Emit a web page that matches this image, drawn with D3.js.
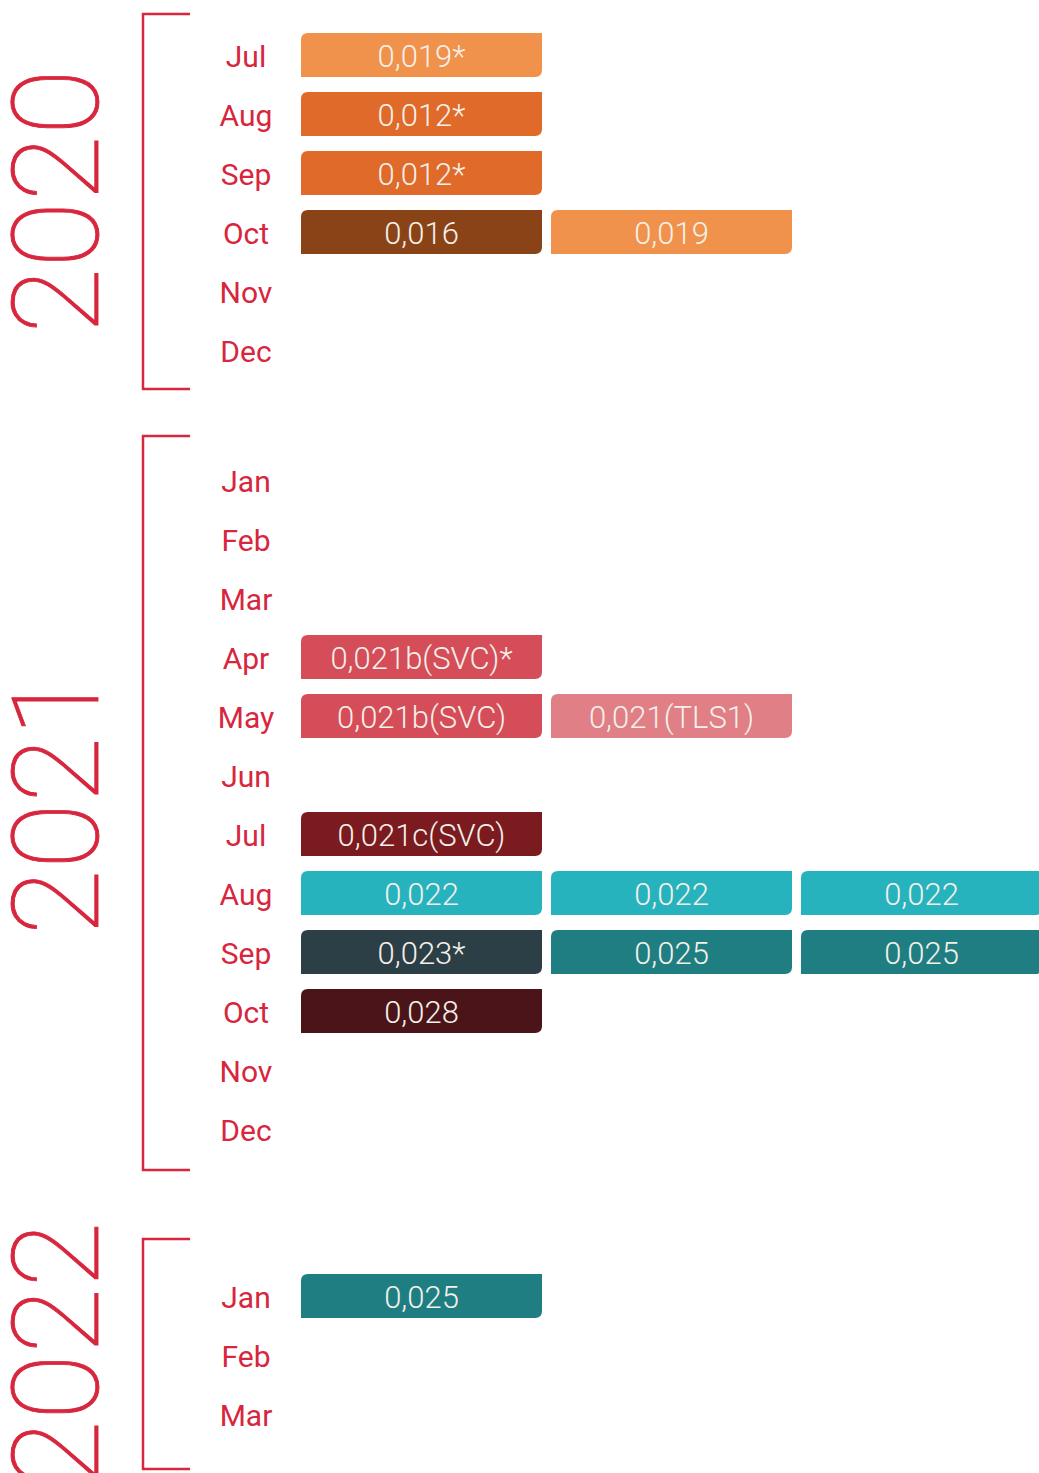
<!DOCTYPE html>
<html>
<head>
<meta charset="utf-8">
<script src="https://cdn.jsdelivr.net/npm/d3@7"></script>
<style>
  body { margin: 0; background: #fff; }
  svg { display: block; }
</style>
</head>
<body>
<div id="chart"></div>
<script>
// ---- data ----
const years = ["2020", "2021", "2022"];
const months2020 = ["Jul", "Aug", "Sep", "Oct", "Nov", "Dec"];
const months2021 = ["Jan", "Feb", "Mar", "Apr", "May", "Jun", "Jul", "Aug", "Sep", "Oct", "Nov", "Dec"];
const months2022 = ["Jan", "Feb", "Mar"];

// one entry per published value: year, month, column slot, label, kind (colour key)
const rates = [
  { year: "2020", month: "Jul", slot: 0, label: "0,019*", kind: "a019p" },
  { year: "2020", month: "Aug", slot: 0, label: "0,012*", kind: "a012p" },
  { year: "2020", month: "Sep", slot: 0, label: "0,012*", kind: "a012p" },
  { year: "2020", month: "Oct", slot: 0, label: "0,016", kind: "a016" },
  { year: "2020", month: "Oct", slot: 1, label: "0,019", kind: "a019p" },
  { year: "2021", month: "Apr", slot: 0, label: "0,021b(SVC)*", kind: "svcB" },
  { year: "2021", month: "May", slot: 0, label: "0,021b(SVC)", kind: "svcB" },
  { year: "2021", month: "May", slot: 1, label: "0,021(TLS1)", kind: "tls1" },
  { year: "2021", month: "Jul", slot: 0, label: "0,021c(SVC)", kind: "svcC" },
  { year: "2021", month: "Aug", slot: 0, label: "0,022", kind: "v022" },
  { year: "2021", month: "Aug", slot: 1, label: "0,022", kind: "v022" },
  { year: "2021", month: "Aug", slot: 2, label: "0,022", kind: "v022" },
  { year: "2021", month: "Sep", slot: 0, label: "0,023*", kind: "v023p" },
  { year: "2021", month: "Sep", slot: 1, label: "0,025", kind: "v025" },
  { year: "2021", month: "Sep", slot: 2, label: "0,025", kind: "v025" },
  { year: "2021", month: "Oct", slot: 0, label: "0,028", kind: "v028" },
  { year: "2022", month: "Jan", slot: 0, label: "0,025", kind: "v025" }
];

const kinds = ["a019p", "a012p", "a016", "svcB", "tls1", "svcC", "v022", "v023p", "v025", "v028"];
const kindColours = ["#f0924b", "#e06a29", "#8a4317", "#d54d58", "#e07f86", "#7b1a1f", "#26b3bd", "#2c3f46", "#1f7e81", "#4a1419"];

// ---- layout ----
const W = 1039, H = 1473;
const red = "#d7263d";
const rowStep = 59;
const firstRow = 56;
const groupGaps = [130, 167];
const bracketPad = [[42, 38], [45, 40], [58, 54]];
const monthsByYear = { "2020": months2020, "2021": months2021, "2022": months2022 };

const svg = d3.select("#chart")
  .append("svg")
  .attr("width", W)
  .attr("height", H);

// one point scale per year group, stacked down the page
const yScales = {};
let start = firstRow;
years.forEach((yr, i) => {
  const m = monthsByYear[yr];
  yScales[yr] = d3.scalePoint()
    .domain(m)
    .range([start, start + rowStep * (m.length - 1)]);
  start = start + rowStep * (m.length - 1) + (groupGaps[i] || 0);
});

const xScale = d3.scaleBand()
  .domain([0, 1, 2])
  .range([301, 1042])
  .paddingInner(0.036);

const colour = d3.scaleOrdinal().domain(kinds).range(kindColours);

const barH = 44;
const r = 7;

// box with rounded top-left and bottom-right corners
function leaf(x, y, w, h) {
  const p = d3.path();
  p.moveTo(x + r, y);
  p.lineTo(x + w, y);
  p.lineTo(x + w, y + h - r);
  p.quadraticCurveTo(x + w, y + h, x + w - r, y + h);
  p.lineTo(x, y + h);
  p.lineTo(x, y + r);
  p.quadraticCurveTo(x, y, x + r, y);
  p.closePath();
  return p.toString();
}

// year groups: bracket, big year, month labels
const groups = svg.selectAll(".yearGroup")
  .data(years)
  .enter()
  .append("g")
  .attr("class", "yearGroup");

groups.append("path")
  .attr("fill", "none")
  .attr("stroke", red)
  .attr("stroke-width", 2.5)
  .attr("d", (yr, i) => {
    const [a, b] = yScales[yr].range();
    const top = a - bracketPad[i][0];
    const bot = b + bracketPad[i][1];
    return `M190,${top}H143V${bot}H190`;
  });

groups.append("text")
  .attr("transform", (yr, i) => {
    const [a, b] = yScales[yr].range();
    const cy = ((a - bracketPad[i][0]) + (b + bracketPad[i][1])) / 2;
    return `translate(98,${cy}) rotate(-90)`;
  })
  .attr("text-anchor", "middle")
  .attr("font-family", "Roboto, sans-serif")
  .attr("font-weight", 100)
  .attr("font-size", 121)
  .attr("fill", red)
  .attr("stroke", red)
  .attr("stroke-width", 0.9)
  .text(yr => yr);

groups.selectAll(".month")
  .data(yr => monthsByYear[yr].map(m => ({ yr, m })))
  .enter()
  .append("text")
  .attr("class", "month")
  .attr("x", 246)
  .attr("y", d => yScales[d.yr](d.m))
  .attr("dy", "0.37em")
  .attr("text-anchor", "middle")
  .attr("font-family", "Roboto, sans-serif")
  .attr("font-weight", 400)
  .attr("font-size", 30)
  .attr("fill", red)
  .text(d => d.m);

// value boxes
const cells = svg.selectAll(".cell")
  .data(rates)
  .enter()
  .append("g")
  .attr("class", "cell");

cells.append("path")
  .attr("fill", d => colour(d.kind))
  .attr("d", d => leaf(xScale(d.slot), yScales[d.year](d.month) - barH / 2 - 1, xScale.bandwidth(), barH));

cells.append("text")
  .attr("x", d => xScale(d.slot) + xScale.bandwidth() / 2)
  .attr("y", d => yScales[d.year](d.month) - 1)
  .attr("dy", "0.4em")
  .attr("text-anchor", "middle")
  .attr("font-family", "Roboto, sans-serif")
  .attr("font-weight", 300)
  .attr("font-size", 31)
  .attr("fill", "#f4f0ea")
  .text(d => d.label);
</script>
</body>
</html>
